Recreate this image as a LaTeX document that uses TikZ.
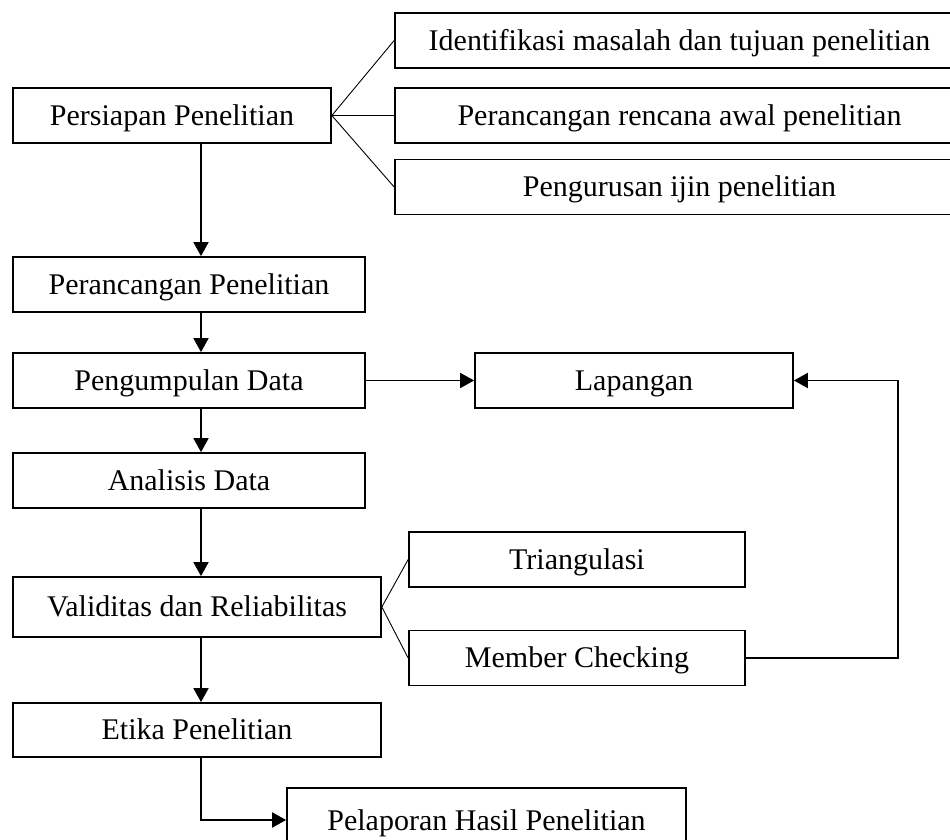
\documentclass[tikz,border=0pt]{standalone}
\usepackage{fontspec}
\setmainfont{Liberation Serif}
\usepackage{tikz}
\usetikzlibrary{arrows.meta}

\tikzset{
    box/.style={draw, line width=0.85pt, inner sep=0pt, minimum height=27.5pt,
        text height=12pt, text depth=2pt, font=\fontsize{15}{18}\selectfont},
    arr/.style={line width=0.85pt, -{Triangle[length=7pt,width=7.5pt]}},
    fan/.style={line width=0.45pt}
}

\begin{document}
\begin{tikzpicture}[x=0.5pt, y=-0.5pt]
    \useasboundingbox (0,0) rectangle (950,840);

    % Main steps
    \node[box, minimum width=159pt] (persiapan) at (172,115.5) {Persiapan Penelitian};
    \node[box, minimum width=176pt] (perancangan) at (189,284.5) {Perancangan Penelitian};
    \node[box, minimum width=176pt] (pengumpulan) at (189,380.5) {Pengumpulan Data};
    \node[box, minimum width=176pt] (analisis) at (189,480.5) {Analisis Data};
    \node[box, minimum width=184pt, minimum height=30pt] (validitas) at (197,607) {Validitas dan Reliabilitas};
    \node[box, minimum width=184pt, minimum height=27pt] (etika) at (197,730) {Etika Penelitian};
    \node[box, minimum width=199.5pt, minimum height=32pt] (pelaporan) at (486.5,820) {Pelaporan Hasil Penelitian};

    % Sub steps
    \node[box, minimum width=284.5pt] (identifikasi) at (679.5,40.5) {Identifikasi masalah dan tujuan penelitian};
    \node[box, minimum width=284.5pt] (rencana) at (679.5,115.5) {Perancangan rencana awal penelitian};
    \node[box, minimum width=284.5pt] (ijin) at (679.5,187) {Pengurusan ijin penelitian};
    \node[box, minimum width=159pt] (lapangan) at (634,380.5) {Lapangan};
    \node[box, minimum width=168pt] (triangulasi) at (577,559.5) {Triangulasi};
    \node[box, minimum width=168pt] (member) at (577,658) {Member Checking};

    % Guide coordinates
    \coordinate (spine) at (201,0);
    \coordinate (loopx) at (898,0);

    % Fan lines
    \draw[fan] (persiapan.east) -- (identifikasi.west);
    \draw[fan] (persiapan.east) -- (rencana.west);
    \draw[fan] (persiapan.east) -- (ijin.west);
    \draw[fan] (validitas.east) -- (triangulasi.west);
    \draw[fan] (validitas.east) -- (member.west);

    % Arrows
    \draw[arr] (persiapan.south -| spine) -- (perancangan.north -| spine);
    \draw[arr] (perancangan.south -| spine) -- (pengumpulan.north -| spine);
    \draw[arr] (pengumpulan.south -| spine) -- (analisis.north -| spine);
    \draw[arr] (analisis.south -| spine) -- (validitas.north -| spine);
    \draw[arr] (validitas.south -| spine) -- (etika.north -| spine);
    \draw[arr] (etika.south -| spine) |- (pelaporan.west);
    \draw[arr] (pengumpulan.east) -- (lapangan.west);
    \draw[arr] (member.east) -- (member.east -| loopx) -- (lapangan.east -| loopx) -- (lapangan.east);
\end{tikzpicture}
\end{document}
